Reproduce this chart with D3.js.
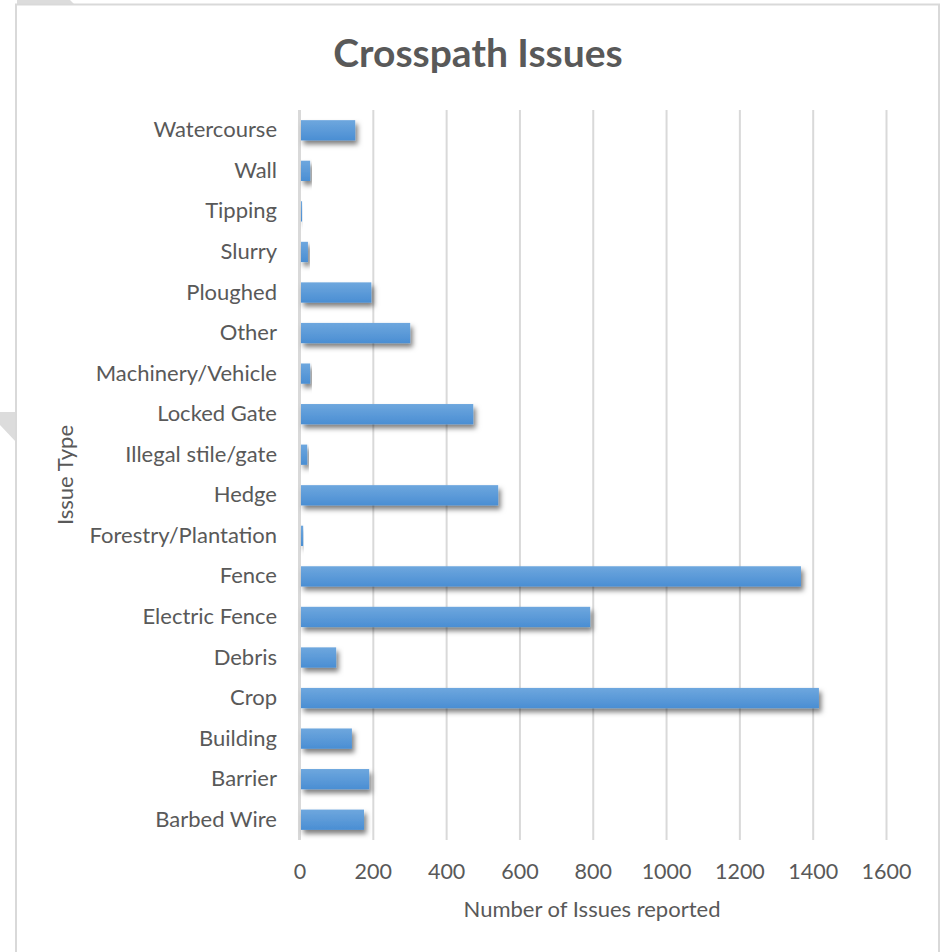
<!DOCTYPE html>
<html>
<head>
<meta charset="utf-8">
<script src="https://cdn.jsdelivr.net/npm/d3@7"></script>
<style>
  html, body { margin: 0; padding: 0; background: #ffffff; }
  svg { display: block; }
  text { font-family: Lato, "Open Sans", sans-serif; fill: #595959; }
</style>
</head>
<body>
<svg id="chart" width="946" height="952"></svg>
<script>
// Issue categories, listed bottom to top as in the source table
const categories = [
  "Barbed Wire", "Barrier", "Building", "Crop", "Debris", "Electric Fence",
  "Fence", "Forestry/Plantation", "Hedge", "Illegal stile/gate", "Locked Gate",
  "Machinery/Vehicle", "Other", "Ploughed", "Slurry", "Tipping", "Wall", "Watercourse"
];
const issueCounts = [
  176, 190, 143, 1417, 100, 793,
  1368, 10, 542, 21, 474,
  29, 302, 196, 23, 7, 29, 152
];
const xTicks = [0, 200, 400, 600, 800, 1000, 1200, 1400, 1600];

const data = categories.map((c, i) => ({ name: c, value: issueCounts[i] }));

const svg = d3.select("#chart");
const labelFont = "Lato, 'Open Sans', sans-serif";

// page furniture behind the chart frame
svg.append("polygon").attr("points", "17,0 70,0 74,4 17,4").attr("fill", "#dcdcdc");
svg.append("polygon").attr("points", "0,412 16,412 16,442 0,425").attr("fill", "#dcdcdc");

// chart frame
svg.append("rect")
  .attr("x", 16).attr("y", 4.5).attr("width", 923).attr("height", 960)
  .attr("fill", "#ffffff").attr("stroke", "#d9d9d9").attr("stroke-width", 2);

const defs = svg.append("defs");
const grad = defs.append("linearGradient")
  .attr("id", "barGrad").attr("x1", 0).attr("y1", 0).attr("x2", 0).attr("y2", 1);
grad.append("stop").attr("offset", "0%").attr("stop-color", "#6ea7de");
grad.append("stop").attr("offset", "100%").attr("stop-color", "#4a8ed3");

const shadow = defs.append("filter").attr("id", "barShadow")
  .attr("x", "-10%").attr("y", "-40%").attr("width", "130%").attr("height", "200%");
shadow.append("feDropShadow")
  .attr("dx", 2.5).attr("dy", 4).attr("stdDeviation", 2.8)
  .attr("flood-color", "#000").attr("flood-opacity", 0.5);

const x = d3.scaleLinear().domain([0, 1600]).range([299.5, 886]);
const y = d3.scaleBand()
  .domain(categories.slice().reverse())
  .range([110, 840])
  .paddingInner(0.5).paddingOuter(0.25);

// vertical gridlines
const xAxis = d3.axisBottom(x).tickValues(xTicks).tickSize(-(840 - 110)).tickFormat("");
const grid = svg.append("g").attr("transform", "translate(0,840)").call(xAxis);
grid.select(".domain").remove();
grid.selectAll(".tick line").attr("stroke", "#d9d9d9").attr("stroke-width", 2);

// category axis line
svg.append("line")
  .attr("x1", x(0)).attr("x2", x(0)).attr("y1", 110).attr("y2", 840)
  .attr("stroke", "#d9d9d9").attr("stroke-width", 3);

// tick labels along the bottom
const xLabels = d3.axisBottom(x).tickValues(xTicks).tickSize(0).tickPadding(0).tickFormat(d3.format("d"));
const xl = svg.append("g").attr("transform", "translate(0,879)").call(xLabels);
xl.select(".domain").remove();
xl.selectAll("text").attr("font-size", 21.5).attr("fill", "#595959")
  .attr("dy", 0).attr("font-family", labelFont);

// category labels
const yLabels = d3.axisLeft(y).tickSize(0).tickPadding(0);
const yl = svg.append("g").attr("transform", "translate(277,0)").call(yLabels);
yl.select(".domain").remove();
yl.selectAll("text").attr("font-size", 22).attr("fill", "#595959")
  .attr("font-family", labelFont);

// bars
svg.append("g").selectAll("rect").data(data).join("rect")
  .attr("x", x(0) + 1.5)
  .attr("y", d => y(d.name))
  .attr("width", d => Math.max(0, x(d.value) - x(0) - 1.5))
  .attr("height", y.bandwidth())
  .attr("fill", "url(#barGrad)")
  .attr("filter", "url(#barShadow)");

// titles
svg.append("text").attr("x", 478).attr("y", 67).attr("text-anchor", "middle")
  .attr("font-size", 39).attr("font-weight", "bold").text("Crosspath Issues");

svg.append("text").attr("x", 592).attr("y", 917).attr("text-anchor", "middle")
  .attr("font-size", 22).text("Number of Issues reported");

svg.append("text")
  .attr("transform", "translate(73,475) rotate(-90)")
  .attr("text-anchor", "middle").attr("font-size", 22).text("Issue Type");
</script>
</body>
</html>
